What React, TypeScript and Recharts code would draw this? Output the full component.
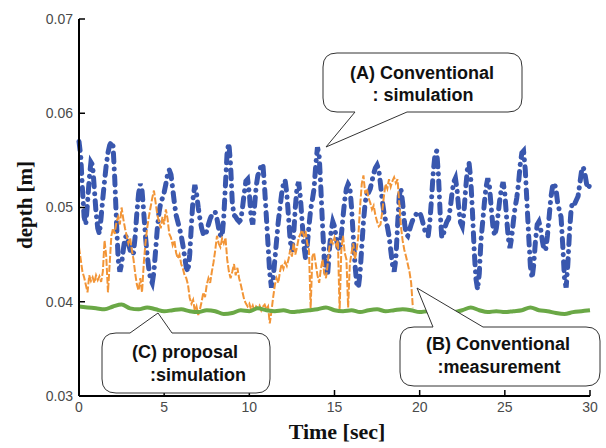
import React from 'react';
import { LineChart, Line, XAxis, YAxis } from 'recharts';

// Time step of sampled series (sec)
const stepA = 0.1;
const stepB = 0.1;
const stepC = 0.5;

// (A) Conventional : simulation  (t = 0 .. 30 s, every 0.1 s)
const seriesA: number[] = [
  0.0570, 0.0555, 0.0520, 0.0490, 0.0482, 0.0505, 0.0530, 0.0548, 0.0545, 0.0520,
  0.0495, 0.0478, 0.0472, 0.0490, 0.0510, 0.0528, 0.0545, 0.0558, 0.0566, 0.0570,
  0.0565, 0.0530, 0.0485, 0.0445, 0.0432, 0.0440, 0.0455, 0.0468, 0.0470, 0.0462,
  0.0455, 0.0450, 0.0452, 0.0470, 0.0495, 0.0515, 0.0525, 0.0518, 0.0495, 0.0470,
  0.0450, 0.0435, 0.0424, 0.0420, 0.0432, 0.0455, 0.0478, 0.0495, 0.0505, 0.0510,
  0.0516, 0.0525, 0.0535, 0.0540, 0.0535, 0.0520, 0.0505, 0.0492, 0.0485, 0.0478,
  0.0470, 0.0460, 0.0448, 0.0436, 0.0432, 0.0450, 0.0482, 0.0510, 0.0524, 0.0515,
  0.0500, 0.0488, 0.0478, 0.0472, 0.0470, 0.0475, 0.0482, 0.0488, 0.0492, 0.0495,
  0.0495, 0.0488, 0.0478, 0.0471, 0.0469, 0.0490, 0.0525, 0.0560, 0.0568, 0.0545,
  0.0505, 0.0492, 0.0490, 0.0487, 0.0485, 0.0487, 0.0500, 0.0515, 0.0528, 0.0530,
  0.0515, 0.0490, 0.0482, 0.0500, 0.0522, 0.0534, 0.0538, 0.0546, 0.0545, 0.0520,
  0.0490, 0.0460, 0.0430, 0.0415, 0.0425, 0.0445, 0.0465, 0.0485, 0.0500, 0.0515,
  0.0525, 0.0529, 0.0515, 0.0490, 0.0465, 0.0453, 0.0470, 0.0500, 0.0522, 0.0527,
  0.0510, 0.0485, 0.0460, 0.0446, 0.0460, 0.0480, 0.0498, 0.0508, 0.0520, 0.0545,
  0.0564, 0.0555, 0.0520, 0.0480, 0.0445, 0.0428, 0.0430, 0.0455, 0.0475, 0.0485,
  0.0480, 0.0468, 0.0458, 0.0455, 0.0470, 0.0490, 0.0508, 0.0520, 0.0525, 0.0522,
  0.0500, 0.0470, 0.0440, 0.0420, 0.0415, 0.0430, 0.0458, 0.0485, 0.0505, 0.0515,
  0.0516, 0.0520, 0.0528, 0.0536, 0.0542, 0.0545, 0.0540, 0.0525, 0.0508, 0.0495,
  0.0486, 0.0480, 0.0470, 0.0455, 0.0440, 0.0432, 0.0445, 0.0480, 0.0512, 0.0520,
  0.0505, 0.0485, 0.0472, 0.0470, 0.0476, 0.0482, 0.0487, 0.0490, 0.0493, 0.0495,
  0.0495, 0.0490, 0.0483, 0.0476, 0.0471, 0.0470, 0.0485, 0.0510, 0.0538, 0.0556,
  0.0560, 0.0535, 0.0495, 0.0468, 0.0472, 0.0480, 0.0485, 0.0488, 0.0500, 0.0515,
  0.0527, 0.0531, 0.0518, 0.0498, 0.0484, 0.0480, 0.0495, 0.0520, 0.0540, 0.0547,
  0.0530, 0.0495, 0.0455, 0.0425, 0.0413, 0.0430, 0.0465, 0.0485, 0.0505, 0.0522,
  0.0531, 0.0522, 0.0500, 0.0480, 0.0470, 0.0478, 0.0492, 0.0508, 0.0520, 0.0527,
  0.0515, 0.0490, 0.0468, 0.0457, 0.0468, 0.0485, 0.0500, 0.0510, 0.0525, 0.0545,
  0.0558, 0.0560, 0.0540, 0.0505, 0.0470, 0.0438, 0.0425, 0.0440, 0.0465, 0.0482,
  0.0485, 0.0478, 0.0465, 0.0455, 0.0455, 0.0470, 0.0490, 0.0510, 0.0522, 0.0526,
  0.0520, 0.0505, 0.0497, 0.0490, 0.0460, 0.0425, 0.0415, 0.0440, 0.0475, 0.0500,
  0.0506, 0.0504, 0.0508, 0.0512, 0.0525, 0.0538, 0.0543, 0.0536, 0.0525, 0.0520,
  0.0525,
];

// (B) Conventional : measurement  (t = 0 .. 19.6 s, every 0.1 s)
const seriesB: number[] = [
  0.0458, 0.0445, 0.0432, 0.0426, 0.0418, 0.0410, 0.0428, 0.0422, 0.0426, 0.0420,
  0.0428, 0.0423, 0.0427, 0.0421, 0.0432, 0.0465, 0.0448, 0.0410, 0.0440, 0.0470,
  0.0478, 0.0472, 0.0485, 0.0490, 0.0482, 0.0500, 0.0488, 0.0478, 0.0470, 0.0462,
  0.0468, 0.0455, 0.0445, 0.0430, 0.0418, 0.0412, 0.0425, 0.0410, 0.0440, 0.0462,
  0.0478, 0.0490, 0.0500, 0.0510, 0.0518, 0.0505, 0.0492, 0.0485, 0.0478, 0.0490,
  0.0482, 0.0498, 0.0488, 0.0472, 0.0468, 0.0460, 0.0465, 0.0452, 0.0446, 0.0450,
  0.0440, 0.0435, 0.0428, 0.0425, 0.0418, 0.0404, 0.0398, 0.0402, 0.0390, 0.0395,
  0.0386, 0.0392, 0.0400, 0.0410, 0.0405, 0.0418, 0.0425, 0.0420, 0.0432, 0.0442,
  0.0455, 0.0470, 0.0462, 0.0458, 0.0467, 0.0462, 0.0468, 0.0445, 0.0432, 0.0425,
  0.0432, 0.0440, 0.0428, 0.0436, 0.0425, 0.0418, 0.0410, 0.0402, 0.0398, 0.0395,
  0.0398, 0.0392, 0.0396, 0.0390, 0.0395, 0.0393, 0.0396, 0.0391, 0.0395, 0.0397,
  0.0392, 0.0395, 0.0377, 0.0390, 0.0405, 0.0418, 0.0425, 0.0420, 0.0432, 0.0440,
  0.0435, 0.0442, 0.0438, 0.0445, 0.0455, 0.0448, 0.0462, 0.0450, 0.0458, 0.0468,
  0.0472, 0.0476, 0.0470, 0.0475, 0.0462, 0.0455, 0.0393, 0.0448, 0.0452, 0.0440,
  0.0428, 0.0420, 0.0435, 0.0445, 0.0430, 0.0425, 0.0440, 0.0458, 0.0465, 0.0462,
  0.0468, 0.0460, 0.0465, 0.0390, 0.0455, 0.0470, 0.0452, 0.0445, 0.0394, 0.0440,
  0.0452, 0.0462, 0.0445, 0.0455, 0.0470, 0.0500, 0.0525, 0.0534, 0.0515, 0.0520,
  0.0510, 0.0505, 0.0498, 0.0502, 0.0492, 0.0485, 0.0480, 0.0482, 0.0495, 0.0512,
  0.0525, 0.0520, 0.0530, 0.0522, 0.0528, 0.0532, 0.0526, 0.0530, 0.0505, 0.0480,
  0.0465, 0.0455, 0.0448, 0.0440, 0.0432, 0.0420, 0.0394,
];

// (C) proposal : simulation  (t = 0 .. 30 s, every 0.5 s)
const seriesC: number[] = [
  0.0395, 0.0394, 0.0393, 0.0392, 0.0395, 0.0397, 0.0393, 0.0392, 0.0394, 0.0392,
  0.0390, 0.0391, 0.0392, 0.0390, 0.0389, 0.0391, 0.0390, 0.0387, 0.0388, 0.0391,
  0.0390, 0.0393, 0.0391, 0.0390, 0.0391, 0.0389, 0.0390, 0.0391, 0.0392, 0.0394,
  0.0391, 0.0390, 0.0391, 0.0389, 0.0391, 0.0392, 0.0390, 0.0391, 0.0392, 0.0391,
  0.0389, 0.0390, 0.0388, 0.0390, 0.0389, 0.0391, 0.0394, 0.0391, 0.0389, 0.0390,
  0.0389, 0.0390, 0.0391, 0.0394, 0.0391, 0.0390, 0.0388, 0.0387, 0.0389, 0.0390,
  0.0391,
];

const xTicks = [0, 5, 10, 15, 20, 25, 30];
const yTicks = [0.03, 0.04, 0.05, 0.06, 0.07];

const toRows = (vals: number[], step: number) =>
  vals.map((v, i) => ({ t: Math.round(i * step * 100) / 100, v }));

const dataA = toRows(seriesA, stepA);
const dataB = toRows(seriesB, stepB);
const dataC = toRows(seriesC, stepC);

const calloutFont = "'Liberation Sans', Arial, sans-serif";
const titleFont = "'Liberation Serif', 'Times New Roman', serif";

export default function App() {
  return (
    <div style={{ position: 'absolute', left: 0, top: 0, width: 606, height: 448, background: '#fff' }}>
      <LineChart
        width={606}
        height={448}
        margin={{ top: 19, right: 16, bottom: 22, left: 19 }}
      >
        <XAxis
          type="number"
          dataKey="t"
          domain={[0, 30]}
          ticks={xTicks}
          allowDuplicatedCategory={false}
          height={30}
          axisLine={{ stroke: '#000', strokeWidth: 2 }}
          tickLine={{ stroke: '#000', strokeWidth: 1.5 }}
          tickSize={-6}
          tickMargin={12}
          tick={{ fill: '#4a4a4a', fontSize: 14, fontFamily: calloutFont }}
        />
        <YAxis
          type="number"
          domain={[0.03, 0.07]}
          ticks={yTicks}
          width={60}
          axisLine={{ stroke: '#000', strokeWidth: 2 }}
          tickLine={{ stroke: '#000', strokeWidth: 1.5 }}
          tickSize={-6}
          tickMargin={12}
          tick={{ fill: '#4a4a4a', fontSize: 14, fontFamily: calloutFont }}
        />
        <Line
          data={dataA}
          dataKey="v"
          type="linear"
          stroke="#3957AE"
          strokeWidth={5}
          strokeLinecap="round"
          strokeDasharray="9 7 0.1 7"
          dot={false}
          isAnimationActive={false}
        />
        <Line
          data={dataB}
          dataKey="v"
          type="linear"
          stroke="#F29537"
          strokeWidth={2}
          strokeDasharray="7 2"
          dot={false}
          isAnimationActive={false}
        />
        <Line
          data={dataC}
          dataKey="v"
          type="monotone"
          stroke="#6AA846"
          strokeWidth={4}
          dot={false}
          isAnimationActive={false}
        />
      </LineChart>
      <svg
        width={606}
        height={448}
        style={{ position: 'absolute', left: 0, top: 0, pointerEvents: 'none' }}
      >
        {/* Axis titles */}
        <text
          x={337}
          y={439}
          textAnchor="middle"
          fontFamily={titleFont}
          fontWeight="bold"
          fontSize={22}
          fill="#111"
        >
          Time [sec]
        </text>
        <text
          transform="translate(32,205) rotate(-90)"
          textAnchor="middle"
          fontFamily={titleFont}
          fontWeight="bold"
          fontSize={21}
          fill="#111"
        >
          depth [m]
        </text>

        {/* Callout A */}
        <path
          d="M 337,53 H 508 Q 522,53 522,67 V 98 Q 522,112 508,112 H 407 L 326,147 L 355,112 H 337 Q 323,112 323,98 V 67 Q 323,53 337,53 Z"
          fill="#fff"
          stroke="#333"
          strokeWidth={1}
        />
        <text x={422} y={79} textAnchor="middle" fontFamily={calloutFont} fontWeight="bold" fontSize={18} fill="#111">
          (A) Conventional
        </text>
        <text x={423} y={101} textAnchor="middle" fontFamily={calloutFont} fontWeight="bold" fontSize={18} fill="#111">
          : simulation
        </text>

        {/* Callout C */}
        <path
          d="M 116,333 H 130 L 158,313 L 172,333 H 256 Q 270,333 270,347 V 379 Q 270,393 256,393 H 116 Q 102,393 102,379 V 347 Q 102,333 116,333 Z"
          fill="#fff"
          stroke="#333"
          strokeWidth={1}
        />
        <text x={185} y={358} textAnchor="middle" fontFamily={calloutFont} fontWeight="bold" fontSize={18} fill="#111">
          (C) proposal
        </text>
        <text x={198} y={381} textAnchor="middle" fontFamily={calloutFont} fontWeight="bold" fontSize={18} fill="#111">
          :simulation
        </text>

        {/* Callout B */}
        <path
          d="M 414,327 H 433 L 417,288 L 483,327 H 586 Q 600,327 600,341 V 372 Q 600,386 586,386 H 414 Q 400,386 400,372 V 341 Q 400,327 414,327 Z"
          fill="#fff"
          stroke="#333"
          strokeWidth={1}
        />
        <text x={498} y={350} textAnchor="middle" fontFamily={calloutFont} fontWeight="bold" fontSize={18} fill="#111">
          (B) Conventional
        </text>
        <text x={499} y={373} textAnchor="middle" fontFamily={calloutFont} fontWeight="bold" fontSize={18} fill="#111">
          :measurement
        </text>
      </svg>
    </div>
  );
}
